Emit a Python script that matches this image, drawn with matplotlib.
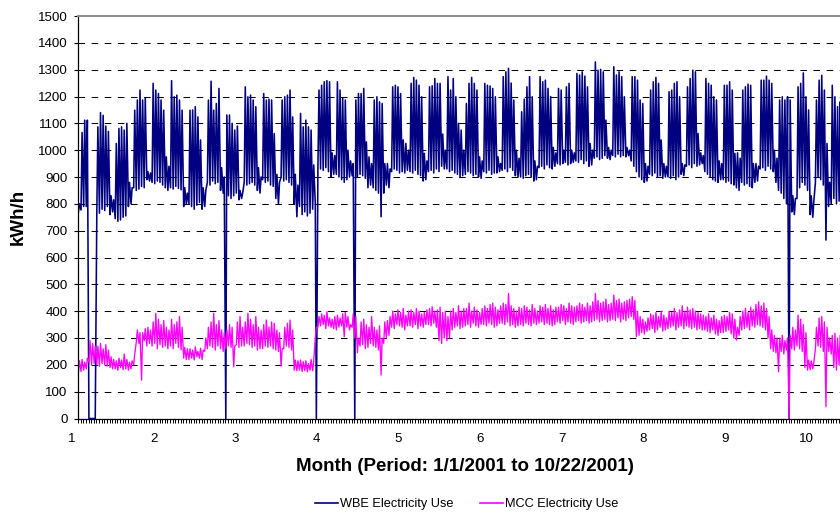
import numpy as np
import matplotlib.pyplot as plt
from matplotlib.ticker import FixedLocator, MultipleLocator
from matplotlib.transforms import ScaledTranslation

plt.rcParams['font.family'] = ['Liberation Sans', 'DejaVu Sans']

# Valores diários: mínimo noturno e pico diurno (kWh/h),
# uma linha por semana (seg..dom), a partir de 1/1/2001
wbe_high = [
    800, 1066, 1112, 1112, 0, 0, 0,
    1087, 1140, 1130, 1090, 1070, 830, 815,
    1025, 1081, 1087, 1075, 1100, 880, 860,
    1149, 1187, 1224, 1187, 1193, 920, 915,
    1249, 1224, 1211, 1187, 1149, 975, 940,
    1259, 1199, 1205, 1187, 1149, 860, 840,
    1149, 1150, 1162, 1124, 1038, 860, 850,
    1187, 1257, 1149, 1174, 1230, 935, 900,
    1131, 1131, 1100, 1075, 1090, 850, 840,
    1236, 1199, 1205, 1187, 1162, 935, 900,
    1211, 1187, 1190, 1187, 1062, 910, 880,
    1187, 1199, 1205, 1224, 1124, 910, 870,
    1137, 1087, 1112, 1087, 1075, 945, 0,
    1224, 1242, 1255, 1259, 1255, 990, 980,
    1255, 1224, 1193, 1187, 1000, 960, 950,
    1187, 1211, 1211, 1230, 1031, 975, 950,
    1187, 1199, 1180, 1174, 950, 950, 930,
    1236, 1242, 1236, 1211, 1038, 1025, 1000,
    1249, 1271, 1261, 1242, 1199, 988, 960,
    1236, 1240, 1267, 1249, 1249, 1060, 1000,
    1274, 1224, 1267, 1199, 1100, 1075, 1000,
    1174, 1249, 1271, 1249, 1224, 975, 960,
    1249, 1242, 1239, 1230, 1199, 975, 950,
    1274, 1292, 1305, 1250, 1187, 1000, 970,
    1143, 1190, 1236, 1274, 1199, 960, 940,
    1274, 1255, 1261, 1230, 1200, 1010, 990,
    1230, 1224, 1000, 1236, 1249, 1000, 990,
    1286, 1280, 1292, 1276, 1236, 1025, 1000,
    1329, 1298, 1301, 1292, 1112, 1010, 1000,
    1311, 1280, 1292, 1274, 1199, 1010, 1000,
    1274, 1274, 1261, 1187, 1174, 950, 940,
    1224, 1255, 1271, 1249, 1038, 950, 940,
    1218, 1224, 1249, 1255, 1199, 950, 945,
    1236, 1267, 1298, 1292, 1062, 990, 980,
    1267, 1249, 1242, 1199, 1187, 960, 950,
    1242, 1242, 1255, 1224, 988, 990, 970,
    1224, 1236, 1246, 1242, 950, 950, 940,
    1261, 1261, 1276, 1261, 1249, 1000, 970,
    1187, 1199, 1187, 1199, 1187, 830, 820,
    1236, 1249, 1288, 1199, 1150, 830, 810,
    1187, 1261, 1279, 1224, 1025, 880, 1242,
    1199, 1162, 1180, 1150, 1100, 950, 940,
]
wbe_low = [
    770, 777, 790, 790, 0, 0, 0,
    770, 765, 780, 775, 790, 760, 770,
    745, 735, 740, 750, 755, 790, 800,
    860, 850, 855, 865, 860, 890, 885,
    880, 875, 885, 880, 870, 860, 850,
    860, 855, 865, 858, 852, 790, 800,
    800, 790, 780, 795, 805, 780, 790,
    880, 870, 885, 875, 880, 850, 840,
    0, 830, 820, 830, 840, 815, 820,
    880, 870, 875, 880, 870, 850, 840,
    890, 880, 885, 870, 865, 820, 800,
    900, 885, 890, 880, 870, 800, 752,
    790, 760, 770, 755, 765, 780, 800,
    940, 930, 925, 935, 920, 900, 910,
    910, 900, 890, 880, 890, 900, 905,
    0, 900, 910, 905, 895, 860, 870,
    860, 850, 840, 752, 840, 870, 860,
    920, 930, 925, 915, 920, 915, 925,
    920, 915, 925, 910, 905, 885, 890,
    920, 925, 915, 930, 920, 940, 930,
    930, 920, 925, 915, 910, 900, 905,
    910, 920, 915, 905, 910, 900, 895,
    920, 915, 925, 910, 915, 915, 920,
    925, 930, 920, 935, 925, 905, 900,
    900, 895, 905, 910, 900, 885, 890,
    935, 940, 930, 945, 935, 930, 940,
    950, 945, 950, 955, 945, 950, 955,
    960, 955, 965, 950, 960, 940, 945,
    970, 975, 965, 970, 980, 970, 965,
    980, 975, 985, 975, 980, 975, 980,
    960, 940, 920, 900, 890, 880, 885,
    910, 905, 915, 900, 905, 895, 900,
    900, 895, 905, 890, 900, 910, 905,
    940, 945, 935, 950, 940, 945, 950,
    920, 910, 900, 890, 885, 880, 890,
    890, 880, 885, 875, 870, 860, 850,
    880, 870, 875, 865, 860, 880, 885,
    930, 935, 925, 940, 930, 920, 880,
    850, 840, 820, 800, 0, 770, 760,
    820, 860, 880, 870, 850, 760, 750,
    880, 900, 890, 870, 665, 790, 800,
    820, 800, 810, 820, 830, 850, 860,
]
mcc_high = [
    215, 220, 210, 225, 290, 280, 270,
    270, 280, 260, 275, 255, 230, 220,
    215, 225, 218, 240, 220, 210, 215,
    240, 330, 320, 320, 335, 340, 330,
    360, 392, 370, 350, 365, 340, 330,
    370, 350, 360, 380, 340, 265, 260,
    260, 255, 267, 250, 262, 255, 300,
    340, 360, 392, 350, 365, 330, 320,
    330, 350, 340, 270, 360, 380, 340,
    360, 392, 370, 350, 380, 340, 330,
    350, 367, 340, 360, 355, 330, 320,
    260, 340, 355, 367, 330, 218, 215,
    218, 212, 215, 205, 220, 215, 340,
    380, 390, 385, 398, 375, 370, 380,
    385, 375, 390, 395, 380, 350, 390,
    380, 300, 360, 370, 350, 340, 380,
    340, 330, 345, 300, 360, 365, 380,
    400, 390, 405, 395, 410, 385, 400,
    405, 395, 410, 400, 390, 395, 405,
    410, 416, 400, 405, 415, 395, 400,
    380, 400, 410, 395, 420, 400, 410,
    410, 430, 400, 415, 405, 395, 410,
    420, 410, 425, 430, 415, 405, 420,
    430, 425, 466, 420, 410, 400, 415,
    410, 420, 415, 405, 425, 410, 400,
    420, 415, 425, 410, 420, 405, 415,
    415, 425, 420, 410, 430, 420, 415,
    420, 430, 425, 415, 430, 420, 435,
    466, 440, 430, 435, 445, 425, 430,
    460, 440, 445, 430, 435, 440, 445,
    454, 440, 400, 380, 370, 360, 375,
    390, 385, 395, 380, 400, 385, 375,
    400, 395, 410, 395, 405, 420, 400,
    415, 405, 410, 400, 395, 390, 385,
    380, 390, 375, 385, 370, 365, 380,
    385, 380, 395, 390, 370, 340, 380,
    400, 410, 395, 415, 405, 425, 435,
    420, 430, 410, 380, 330, 310, 300,
    300, 310, 290, 300, 310, 340, 330,
    385, 370, 350, 320, 218, 215, 210,
    340, 375, 380, 360, 340, 300, 310,
    318, 300, 310, 290, 300, 310, 300,
]
mcc_low = [
    170, 175, 180, 185, 210, 200, 205,
    200, 195, 205, 200, 195, 190, 185,
    185, 180, 190, 182, 185, 180, 185,
    200, 285, 280, 143, 290, 270, 280,
    270, 280, 260, 275, 265, 270, 260,
    270, 260, 280, 265, 255, 225, 220,
    220, 225, 218, 230, 225, 220, 250,
    260, 270, 265, 255, 270, 260, 250,
    260, 270, 265, 193, 275, 265, 270,
    270, 280, 275, 265, 270, 255, 260,
    260, 270, 265, 270, 260, 255, 250,
    195, 260, 270, 265, 255, 180, 178,
    180, 175, 178, 174, 180, 178, 300,
    340, 345, 350, 335, 345, 340, 335,
    330, 340, 345, 305, 340, 330, 340,
    300, 245, 270, 275, 260, 265, 280,
    270, 265, 255, 162, 280, 300, 310,
    340, 335, 350, 345, 340, 330, 345,
    345, 340, 350, 335, 345, 340, 350,
    350, 345, 355, 340, 290, 280, 300,
    290, 300, 330, 340, 345, 335, 340,
    345, 350, 340, 355, 345, 340, 350,
    350, 345, 355, 350, 340, 345, 355,
    355, 350, 360, 345, 350, 340, 345,
    350, 345, 355, 350, 345, 355, 350,
    355, 360, 350, 355, 350, 345, 350,
    360, 355, 365, 350, 360, 355, 350,
    360, 365, 355, 360, 365, 355, 360,
    365, 370, 360, 365, 370, 360, 365,
    370, 365, 375, 360, 370, 365, 375,
    380, 370, 305, 310, 320, 315, 325,
    330, 335, 320, 330, 340, 325, 330,
    335, 340, 345, 330, 340, 345, 335,
    345, 340, 335, 340, 330, 335, 330,
    330, 325, 320, 330, 315, 310, 320,
    320, 325, 330, 315, 300, 292, 310,
    330, 335, 340, 330, 345, 340, 350,
    345, 340, 330, 300, 260, 250, 245,
    174, 250, 240, 255, 0, 260, 255,
    270, 260, 250, 190, 180, 182, 185,
    260, 270, 265, 250, 44, 250, 240,
    190, 180, 200, 210, 220, 215, 220,
]

meses = list(range(1, 11))
y_ticks = list(range(0, 1501, 100))
etiquetas = ['WBE Electricity Use', 'MCC Electricity Use']
cores = ['#000080', '#FF00FF']


def serie(baixo, alto):
    # cada dia: mínimo noturno seguido do pico diurno; eixo em "meses" (31 dias por unidade)
    dias = np.arange(len(baixo))
    x = np.column_stack([dias + 0.15, dias + 0.55]).ravel() / 31 + 1
    y = np.column_stack([baixo, alto]).ravel()
    return x, y


W, H = 840, 513
fig = plt.figure(figsize=(W / 100, H / 100), dpi=100)
ax = fig.add_axes([78 / W, 1 - 418.5 / H, 1 - 78 / W, 402.5 / H])

for (lo, hi), cor, lab, lw in zip([(wbe_low, wbe_high), (mcc_low, mcc_high)],
                                  cores, etiquetas, [1.15, 0.95]):
    x, y = serie(lo, hi)
    ax.plot(x, y, color=cor, lw=lw, label=lab)

ax.set_xlim(1, 1 + 762 / 81.6)
ax.set_ylim(0, 1500)
ax.yaxis.set_major_locator(FixedLocator(y_ticks))
ax.xaxis.set_major_locator(FixedLocator(meses))
ax.xaxis.set_minor_locator(MultipleLocator(1 / 31))

ax.tick_params(axis='y', direction='out', length=3, width=0.8, pad=4.5, labelsize=9.6)
ax.tick_params(axis='x', which='both', direction='out', length=3, width=0.7, pad=7.5, labelsize=9.6)

# rótulos do eixo x ficam ~6 px à esquerda das marcas no original
desloc = ScaledTranslation(-6 / 100, 0, fig.dpi_scale_trans)
for lbl in ax.get_xticklabels():
    lbl.set_transform(lbl.get_transform() + desloc)

ax.grid(axis='y', color='black', linestyle=(0, (6.3, 6.3)), linewidth=0.75)
ax.set_axisbelow(True)
ax.yaxis.get_major_ticks()[-1].gridline.set_visible(False)

ax.spines['right'].set_visible(False)
ax.spines['top'].set_color('#8c8c8c')
ax.spines['top'].set_linewidth(1.4)
ax.spines['top'].set_linestyle((0, (4, 1)))
for s in ['left', 'bottom']:
    ax.spines[s].set_linewidth(0.9)

fig.text(465 / W, 1 - 466.5 / H, 'Month (Period: 1/1/2001 to 10/22/2001)',
         ha='center', va='center', fontsize=13.5, fontweight='bold')
fig.text(18.5 / W, 1 - 217 / H, 'kWh/h', rotation=90,
         ha='center', va='center', fontsize=13.5, fontweight='bold')

leg = fig.legend(loc='center', bbox_to_anchor=(466.5 / W, 1 - 504.5 / H), ncol=2,
                 frameon=False, fontsize=9.2, handlelength=1.8, handletextpad=0.15,
                 columnspacing=2.1, borderpad=0)
for h in leg.get_lines():
    h.set_linewidth(1.2)

fig.savefig('out.png', dpi=100)
